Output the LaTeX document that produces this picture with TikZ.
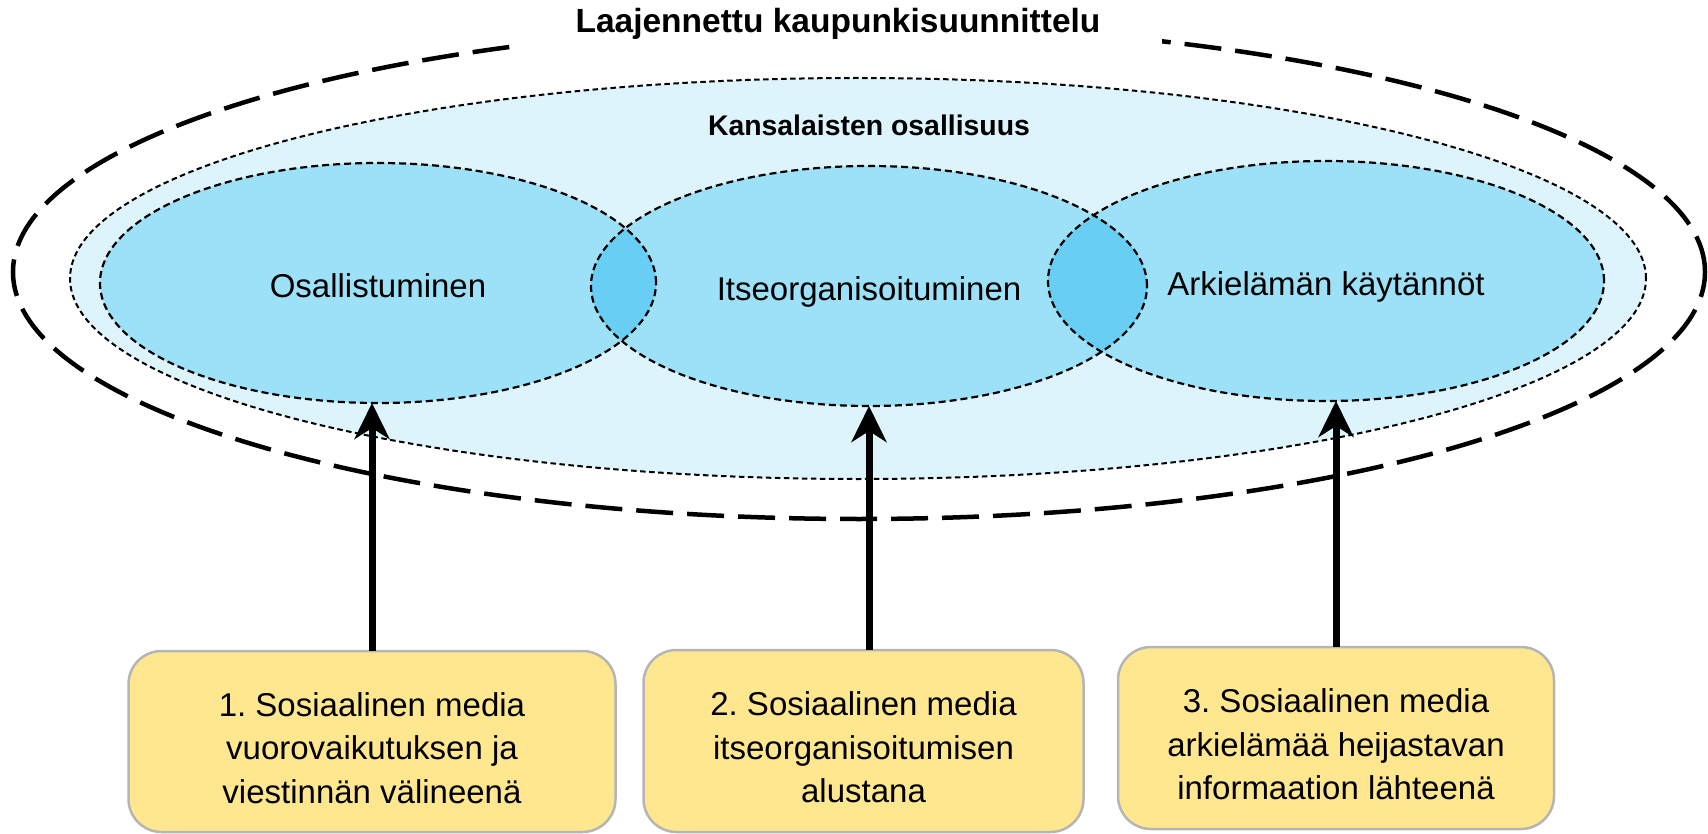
\documentclass[tikz,border=0pt]{standalone}
\usepackage{fontspec}
\setmainfont{Liberation Sans}
\usetikzlibrary{shapes.geometric,arrows.meta}
\frenchspacing
\definecolor{lightbg}{HTML}{DEF4FC}
\definecolor{vennfill}{HTML}{9DE1F8}
\definecolor{lensfill}{HTML}{69CEF3}
\definecolor{boxfill}{HTML}{FEE78F}
\definecolor{boxline}{HTML}{B5B5B5}
\newcommand\toppad{\rule{0pt}{37pt}}
\tikzset{
  outerell/.style={ellipse, draw=black, line width=4.5pt, dash pattern=on 37pt off 14pt,
    minimum width=1692pt, minimum height=494pt, inner sep=0pt, outer sep=0pt},
  midell/.style={ellipse, draw=black, fill=lightbg, line width=2pt, dash pattern=on 5.5pt off 3.5pt,
    minimum width=1576pt, minimum height=401pt, inner sep=0pt, outer sep=0pt},
  venn/.style={ellipse, draw=black, line width=2.2pt, dash pattern=on 7pt off 4pt,
    minimum width=556pt, minimum height=240pt, inner sep=0pt, outer sep=0pt,
    text height=30pt, text depth=0pt,
    font=\fontsize{33}{40}\selectfont},
  titlebox/.style={fill=white, inner xsep=62pt, minimum height=56pt,
    font=\bfseries\fontsize{33.5}{40}\selectfont},
  sublabel/.style={inner sep=0pt, font=\bfseries\fontsize{28.4}{34}\selectfont},
  mediabox/.style={rectangle, rounded corners=33pt, draw=boxline, line width=2.5pt, fill=boxfill,
    align=center, inner sep=0pt, outer sep=0pt, font=\fontsize{33}{43.5}\selectfont},
  uparrow/.style={line width=7pt, -{Stealth[length=36pt, width=35pt, inset=11pt]}}
}
\begin{document}
\begin{tikzpicture}[x=1pt, y=-1pt]
\useasboundingbox (0,0) rectangle (1708,834);
% outer and middle ellipses
\node[outerell] (U) at (859,272) {};
\node[titlebox] (T) at (838,24) {Laajennettu kaupunkisuunnittelu};
\node[midell] (K) at (858,278.5) {};
\node[sublabel] (KL) at (869,125) {Kansalaisten osallisuus};
% centres of the three ellipses
\coordinate (c1) at (378,283);
\coordinate (c2) at (869,286);
\coordinate (c3) at (1326,281);
% fills
\foreach \c in {c1,c2,c3}
  \fill[vennfill] (\c) ellipse [x radius=278pt, y radius=120pt];
\begin{scope}
  \clip (c1) ellipse [x radius=278pt, y radius=120pt];
  \fill[lensfill] (c2) ellipse [x radius=278pt, y radius=120pt];
\end{scope}
\begin{scope}
  \clip (c2) ellipse [x radius=278pt, y radius=120pt];
  \fill[lensfill] (c3) ellipse [x radius=278pt, y radius=120pt];
\end{scope}
% outlined ellipse nodes
\node[venn] (e1) at (c1) {Osallistuminen};
\node[venn] (e2) at (c2) {Itseorganisoituminen};
\node[venn] (e3) at (c3) {Arkielämän käytännöt};
% boxes
\node[mediabox, minimum width=487pt, minimum height=181pt] (b1) at (372,741.5)
  {\toppad 1. Sosiaalinen media\\vuorovaikutuksen ja\\viestinnän välineenä};
\node[mediabox, minimum width=440pt, minimum height=182pt] (b2) at (863.5,741)
  {\toppad 2. Sosiaalinen media\\itseorganisoitumisen\\alustana};
\node[mediabox, minimum width=436pt, minimum height=182pt] (b3) at (1336,738)
  {\toppad 3. Sosiaalinen media\\arkielämää heijastavan\\informaation lähteenä};
% arrows
\draw[uparrow] (b1.north) -- (b1.north |- e1.south);
\draw[uparrow] (b2.north -| e2.south) -- (e2.south);
\draw[uparrow] (b3.north) -- (b3.north |- e3.south);
\end{tikzpicture}
\end{document}
